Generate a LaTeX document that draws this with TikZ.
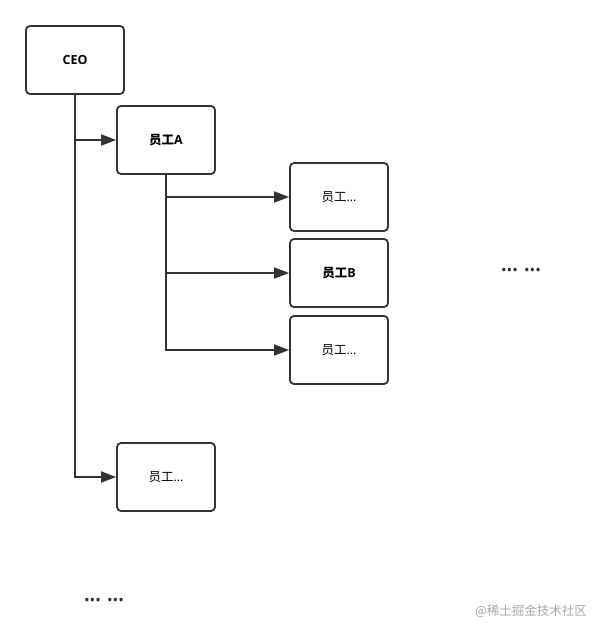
\documentclass[tikz,border=0pt]{standalone}
\usepackage{fontspec}
\setmainfont{Open Sans}
\newfontfamily\cjk{Noto Sans CJK SC}
\usetikzlibrary{arrows.meta}
\definecolor{linegray}{HTML}{333333}
\definecolor{markgray}{HTML}{A8A8A8}
\tikzset{
    staff/.style={draw=linegray,line width=1.8pt,rounded corners=4pt,fill=white,
        minimum width=98pt,minimum height=68pt,font=\fontsize{12.5}{14}\selectfont},
    link/.style={draw=linegray,line width=1.8pt,-{Triangle[length=15pt,width=11pt]}},
    more/.style={text=linegray,font=\fontsize{15}{16}\selectfont}
}

\begin{document}
\begin{tikzpicture}[x=1pt,y=-1pt]
    \useasboundingbox (0,0) rectangle (606,636);

    \node[staff] (ceo) at (75,60) {\textbf{CEO}};
    \node[staff] (a) at (166,140) {\textbf{{\cjk\bfseries 员工}A}};

    \node[staff] (a1) at (339,197) {{\cjk 员工}…};
    \node[staff] (b) at (339,273) {\textbf{{\cjk\bfseries 员工}B}};
    \node[staff] (a3) at (339,350) {{\cjk 员工}…};

    \node[staff] (c) at (166,477) {{\cjk 员工}…};

    \draw[link] (ceo.south) |- (a.west);
    \draw[link] (ceo.south) |- (c.west);

    \draw[link] (a.south) |- (a1.west);
    \draw[link] (a.south) |- (b.west);
    \draw[link] (a.south) |- (a3.west);

    \node[more] (more1) at (521,272) {•••\hspace{6pt}•••};
    \node[more] (more2) at (104,602) {•••\hspace{6pt}•••};

    \node[text=markgray,font=\fontsize{12.5}{14}\selectfont\cjk] (mark) at (531,611) {@稀土掘金技术社区};
\end{tikzpicture}
\end{document}
